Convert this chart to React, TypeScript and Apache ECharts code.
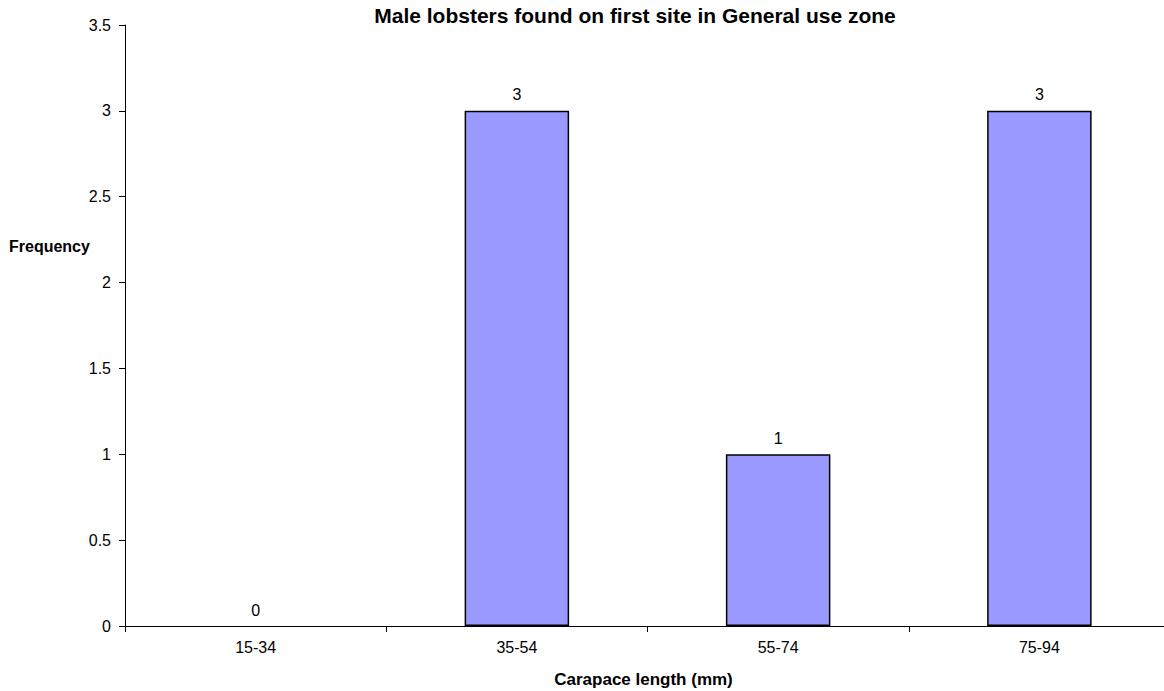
import React, { useEffect, useRef } from "react";
import * as echarts from "echarts";

const categories = ["15-34", "35-54", "55-74", "75-94"];
const frequency = [0, 3, 1, 3];
const titleText = "Male lobsters found on first site in General use zone";
const yName = "Frequency";
const xName = "Carapace length (mm)";

const FONT = "Arial, 'Liberation Sans', sans-serif";

export default function App() {
  const ref = useRef<HTMLDivElement>(null);
  useEffect(() => {
    document.body.style.margin = "0";
    const chart = echarts.init(ref.current!, null, { renderer: "svg" });
    chart.setOption({
      animation: false,
      backgroundColor: "#ffffff",
      textStyle: { fontFamily: FONT },
      title: {
        text: titleText,
        left: 630,
        textAlign: "center",
        top: 0,
        textStyle: { fontSize: 21, fontWeight: "bold", color: "#000", fontFamily: FONT },
      },
      graphic: [
        {
          type: "text",
          left: 9,
          top: 238,
          style: { text: yName, font: "bold 16px Arial, 'Liberation Sans', sans-serif", fill: "#000" },
        },
      ],
      grid: {
        left: 125,
        right: -6,
        top: 25,
        bottom: 65,
        containLabel: false,
        outerBoundsMode: "none",
      },
      xAxis: {
        type: "category",
        data: categories,
        name: xName,
        nameLocation: "middle",
        nameGap: 45,
        nameTextStyle: { fontSize: 17, fontWeight: "bold", color: "#000", padding: [0, 0, 0, -8] },
        axisLine: { lineStyle: { color: "#000", width: 1 } },
        axisTick: { show: true, alignWithLabel: false, length: 6, lineStyle: { color: "#000" } },
        axisLabel: { fontSize: 16, color: "#000", margin: 13 },
        splitLine: { show: false },
      },
      yAxis: {
        type: "value",
        min: 0,
        max: 3.5,
        interval: 0.5,
        axisLine: { show: true, lineStyle: { color: "#000", width: 1 } },
        axisTick: { show: true, length: 6, lineStyle: { color: "#000" } },
        axisLabel: { fontSize: 16, color: "#000", margin: 14 },
        splitLine: { show: false },
      },
      series: [
        {
          type: "bar",
          data: frequency.map((v) => ({
            value: v,
            itemStyle: v === 0 ? { borderWidth: 0, color: "transparent" } : undefined,
          })),
          barWidth: "40%",
          itemStyle: { color: "#9999FF", borderColor: "#000", borderWidth: 1.5 },
          label: {
            show: true,
            position: "top",
            distance: 8,
            fontSize: 16,
            color: "#000",
          },
        },
      ],
    });
    return () => chart.dispose();
  }, []);
  return <div ref={ref} style={{ width: 1164, height: 691 }} />;
}
